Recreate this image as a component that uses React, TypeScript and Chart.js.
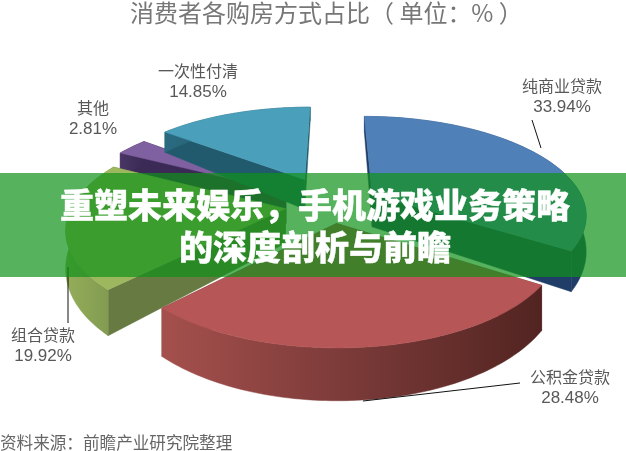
import React, { useEffect, useRef } from "react";
import { Chart, registerables } from "chart.js";

Chart.register(...registerables);

const categories = ["纯商业贷款", "公积金贷款", "组合贷款", "其他", "一次性付清"];
const shares = [33.94, 28.48, 19.92, 2.81, 14.85];
const explode = [22, 18, 22, 26, 30];

const topColors = ["#5080b8", "#b65656", "#9db75f", "#7f60a0", "#4a9fba"];
const radialColors = ["#1f3d66", "#6a2f2d", "#667a42", "#3b2a55", "#215a6c"];
const wallLeft = ["#2b4f80", "#a5504d", "#93ad5a", "#4a3566", "#2a6a80"];
const wallMid = ["#24456f", "#7a3a38", "#8aa455", "#40305c", "#255f72"];
const wallRight = ["#1f3d66", "#522421", "#7f9850", "#3b2a55", "#215a6c"];
const drawOrder = [3, 4, 0, 2, 1];

const labelPos = [
  [562, 86],
  [570, 377],
  [43, 335],
  [93, 108],
  [198, 71],
];
const leaders = [
  [[532, 120], [541, 148]],
  [[520, 383], [433, 393], [363, 401]],
  [[68, 267], [68, 323]],
];

const titleText = "消费者各购房方式占比（ 单位：% ）";
const sourceText = "资料来源：前瞻产业研究院整理";
const bannerLines = ["重塑未来娱乐，手机游戏业务策略", "的深度剖析与前瞻"];

const CJK = '"Noto Sans CJK SC", sans-serif';
const LATIN = '"Liberation Sans", sans-serif';

const cx = 332, cy = 205, R0 = 213, K0 = 100;
const project = (u: number, v: number, wall: boolean) => ({
  x: cx + R0 * u * (1 + 0.19 * v),
  y: cy + K0 * v * (1 + 0.18 * v) + (wall ? 34 + 16 * v : 0),
});

const pie3d = {
  id: "pie3d",
  beforeDatasetsDraw(chart: any) {
    const ctx: CanvasRenderingContext2D = chart.ctx;
    const arcs = chart.getDatasetMeta(0).data;
    for (const i of drawOrder) {
      const arc = arcs[i];
      const a0 = arc.startAngle, a1 = arc.endAngle;
      const mid = (a0 + a1) / 2;
      const e = arc.options.offset / 100;
      const ou = Math.cos(mid) * e, ov = Math.sin(mid) * e;
      const rim: [number, number][] = [];
      const steps = Math.max(4, Math.ceil((a1 - a0) / 0.02));
      for (let s = 0; s <= steps; s++) {
        const a = a0 + ((a1 - a0) * s) / steps;
        rim.push([ou + Math.cos(a), ov + Math.sin(a)]);
      }
      const poly = (pts: { x: number; y: number }[], fill: any) => {
        ctx.beginPath();
        pts.forEach((p, k) => (k ? ctx.lineTo(p.x, p.y) : ctx.moveTo(p.x, p.y)));
        ctx.closePath();
        ctx.fillStyle = fill;
        ctx.fill();
        ctx.strokeStyle = fill;
        ctx.lineWidth = 0.5;
        ctx.stroke();
      };
      const topRim = rim.map(([u, v]) => project(u, v, false));
      const lowRim = rim.map(([u, v]) => project(u, v, true));
      const apexT = project(ou, ov, false);
      const apexB = project(ou, ov, true);
      poly([apexT, topRim[0], lowRim[0], apexB], radialColors[i]);
      poly([apexT, topRim[steps], lowRim[steps], apexB], radialColors[i]);
      const xs = lowRim.map((p) => p.x);
      const grad = ctx.createLinearGradient(Math.min(...xs), 0, Math.max(...xs), 0);
      grad.addColorStop(0, wallLeft[i]);
      grad.addColorStop(0.5, wallMid[i]);
      grad.addColorStop(1, wallRight[i]);
      poly([...topRim, ...lowRim.slice().reverse()], grad);
      poly([apexT, ...topRim], topColors[i]);
    }
    ctx.strokeStyle = "#111";
    ctx.lineWidth = 1;
    for (const line of leaders) {
      ctx.beginPath();
      line.forEach(([x, y], k) => (k ? ctx.lineTo(x, y) : ctx.moveTo(x, y)));
      ctx.stroke();
    }
    return false;
  },
  afterDraw(chart: any) {
    const ctx: CanvasRenderingContext2D = chart.ctx;
    ctx.save();
    ctx.textBaseline = "middle";
    ctx.textAlign = "left";
    ctx.fillStyle = "#777";
    ctx.font = `24px ${CJK}`;
    ctx.fillText(titleText, 130, 13);
    ctx.fillStyle = "#666";
    ctx.font = `16.6px ${CJK}`;
    ctx.fillText(sourceText, 0, 443);
    ctx.textAlign = "center";
    ctx.fillStyle = "#585858";
    categories.forEach((c, i) => {
      const [x, y] = labelPos[i];
      ctx.font = `16px ${CJK}`;
      ctx.fillText(c, x, y);
      ctx.font = `17px ${LATIN}`;
      ctx.fillText(`${shares[i].toFixed(2)}%`, x, y + 21);
    });
    ctx.fillStyle = "rgba(15,145,26,0.7)";
    ctx.fillRect(0, 173, 626, 104);
    ctx.fillStyle = "#fff";
    ctx.strokeStyle = "#fff";
    ctx.lineWidth = 0.4;
    ctx.lineJoin = "round";
    ctx.font = `900 34px ${CJK}`;
    bannerLines.forEach((line, k) => {
      ctx.fillText(line, 315, 205 + k * 42);
      ctx.strokeText(line, 315, 205 + k * 42);
    });
    ctx.restore();
  },
};

export default function App() {
  const ref = useRef<HTMLCanvasElement>(null);
  useEffect(() => {
    const chart = new Chart(ref.current!, {
      type: "pie",
      data: {
        labels: categories,
        datasets: [{ data: shares, offset: explode, backgroundColor: topColors, borderWidth: 0 }],
      },
      options: {
        responsive: false,
        animation: false,
        plugins: { legend: { display: false }, tooltip: { enabled: false }, title: { display: false } },
      },
      plugins: [pie3d],
    } as any);
    return () => chart.destroy();
  }, []);
  return (
    <div style={{ position: "fixed", left: 0, top: 0, width: 626, height: 451, background: "#fff", overflow: "hidden" }}>
      <canvas ref={ref} width={626} height={451} style={{ display: "block" }} />
    </div>
  );
}
